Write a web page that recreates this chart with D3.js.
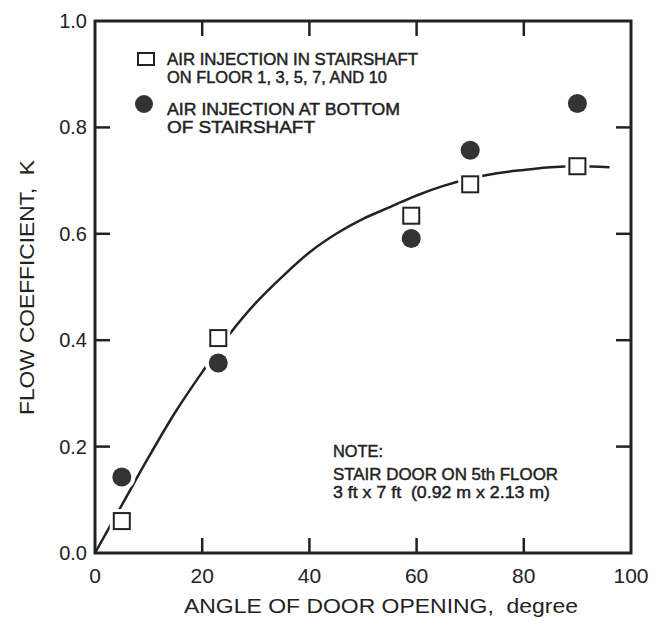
<!DOCTYPE html>
<html>
<head>
<meta charset="utf-8">
<script src="https://cdn.jsdelivr.net/npm/d3@7"></script>
<style>
  body { margin: 0; background: #fff; }
  text { font-family: "Liberation Sans", Arial, Helvetica, sans-serif; fill: #222; white-space: pre; }
</style>
</head>
<body>
<script>
// measured data: angle of door opening (degree) vs flow coefficient K
var anglesSquare = [5, 23, 59, 70, 90];
var kSquare = [0.06, 0.404, 0.634, 0.693, 0.727];   // injection on floors 1,3,5,7,10
var anglesCircle = [5, 23, 59, 70, 90];
var kCircle = [0.143, 0.357, 0.591, 0.757, 0.845];  // injection at bottom

// fitted curve
var curveAngle = [0, 5, 10, 15, 20, 25, 30, 35, 40, 45, 50, 55, 60, 65, 70, 75, 80, 85, 90, 96];
var curveK = [0, 0.09, 0.18, 0.265, 0.34, 0.41, 0.47, 0.52, 0.565, 0.60, 0.628, 0.65, 0.672, 0.69, 0.704, 0.714, 0.72, 0.725, 0.727, 0.725];

var xTicks = [0, 20, 40, 60, 80, 100];
var yTicks = [0, 0.2, 0.4, 0.6, 0.8, 1.0];
var innerX = [20, 40, 60, 80];
var innerY = [0.2, 0.4, 0.6, 0.8];

var W = 660, H = 621;
var svg = d3.select('body').append('svg').attr('width', W).attr('height', H);

var x = d3.scaleLinear().domain([0, 100]).range([95, 631]);
var y = d3.scaleLinear().domain([0, 1]).range([553, 21]);
var ink = '#222';

// frame
svg.append('rect')
  .attr('x', x(0)).attr('y', y(1))
  .attr('width', x(100) - x(0)).attr('height', y(0) - y(1))
  .style('fill', 'none').style('stroke', ink).style('stroke-width', 3);

// inner ticks, all four sides
var tl = 15;
innerX.forEach(function(v) {
  svg.append('line').attr('x1', x(v)).attr('x2', x(v)).attr('y1', y(0)).attr('y2', y(0) - tl)
    .style('stroke', ink).style('stroke-width', 2.5);
  svg.append('line').attr('x1', x(v)).attr('x2', x(v)).attr('y1', y(1)).attr('y2', y(1) + tl)
    .style('stroke', ink).style('stroke-width', 2.5);
});
innerY.forEach(function(v) {
  svg.append('line').attr('x1', x(0)).attr('x2', x(0) + tl).attr('y1', y(v)).attr('y2', y(v))
    .style('stroke', ink).style('stroke-width', 2.5);
  svg.append('line').attr('x1', x(100)).attr('x2', x(100) - tl).attr('y1', y(v)).attr('y2', y(v))
    .style('stroke', ink).style('stroke-width', 2.5);
});

// tick labels
svg.selectAll('.xl').data(xTicks).enter().append('text')
  .attr('x', function(d) { return x(d); }).attr('y', 583)
  .attr('text-anchor', 'middle').style('font-size', '21px')
  .text(function(d) { return d; });
svg.selectAll('.yl').data(yTicks).enter().append('text')
  .attr('x', 87).attr('y', function(d) { return y(d) + 7; })
  .attr('text-anchor', 'end').style('font-size', '20px')
  .text(function(d) { return d.toFixed(1); });

// axis titles
svg.append('text').attr('x', 184).attr('y', 613)
  .attr('textLength', 394).attr('lengthAdjust', 'spacingAndGlyphs')
  .style('font-size', '21px').text('ANGLE OF DOOR OPENING,  degree');
svg.append('text').attr('transform', 'translate(34,415) rotate(-90)')
  .attr('textLength', 255).attr('lengthAdjust', 'spacingAndGlyphs')
  .style('font-size', '21px').text('FLOW COEFFICIENT,  K');

// curve
var pts = curveAngle.map(function(a, i) { return [a, curveK[i]]; });
var line = d3.line().x(function(d) { return x(d[0]); }).y(function(d) { return y(d[1]); })
  .curve(d3.curveCatmullRom);
svg.append('path').attr('d', line(pts))
  .style('fill', 'none').style('stroke', ink).style('stroke-width', 2.5);

// markers with white halo so the curve breaks around them
var sq = 16, r = 9.5;
var sqData = anglesSquare.map(function(a, i) { return [a, kSquare[i]]; });
var ciData = anglesCircle.map(function(a, i) { return [a, kCircle[i]]; });

svg.selectAll('.sqh').data(sqData).enter().append('rect')
  .attr('x', function(d) { return x(d[0]) - sq / 2 - 4; })
  .attr('y', function(d) { return y(d[1]) - sq / 2 - 4; })
  .attr('width', sq + 8).attr('height', sq + 8).style('fill', '#fff');
svg.selectAll('.cih').data(ciData).enter().append('circle')
  .attr('cx', function(d) { return x(d[0]); }).attr('cy', function(d) { return y(d[1]); })
  .attr('r', r + 4).style('fill', '#fff');

svg.selectAll('.sq').data(sqData).enter().append('rect')
  .attr('x', function(d) { return x(d[0]) - sq / 2; })
  .attr('y', function(d) { return y(d[1]) - sq / 2; })
  .attr('width', sq).attr('height', sq)
  .style('fill', '#fff').style('stroke', ink).style('stroke-width', 2);
svg.selectAll('.ci').data(ciData).enter().append('circle')
  .attr('cx', function(d) { return x(d[0]); }).attr('cy', function(d) { return y(d[1]); })
  .attr('r', r).style('fill', '#333');

// legend
svg.append('rect').attr('x', 138).attr('y', 53).attr('width', 16).attr('height', 12)
  .style('fill', '#fff').style('stroke', ink).style('stroke-width', 2);
svg.append('circle').attr('cx', 144).attr('cy', 104).attr('r', 9).style('fill', '#333');

var legendLines = [
  ['AIR INJECTION IN STAIRSHAFT', 65, 251],
  ['ON FLOOR 1, 3, 5, 7, AND 10', 83, 220],
  ['AIR INJECTION AT BOTTOM', 115, 233],
  ['OF STAIRSHAFT', 133, 148]
];
legendLines.forEach(function(l) {
  svg.append('text').attr('x', 167).attr('y', l[1])
    .attr('textLength', l[2]).attr('lengthAdjust', 'spacingAndGlyphs')
    .style('font-size', '16px').style('stroke', '#222').style('stroke-width', 0.45)
    .text(l[0]);
});

// note
var noteLines = [
  ['NOTE:', 457, 50],
  ['STAIR DOOR ON 5th FLOOR', 480, 225],
  ['3 ft x 7 ft  (0.92 m x 2.13 m)', 498, 217]
];
noteLines.forEach(function(l) {
  svg.append('text').attr('x', 333).attr('y', l[1])
    .attr('textLength', l[2]).attr('lengthAdjust', 'spacingAndGlyphs')
    .style('font-size', '16px').style('stroke', '#222').style('stroke-width', 0.45)
    .text(l[0]);
});
</script>
</body>
</html>
